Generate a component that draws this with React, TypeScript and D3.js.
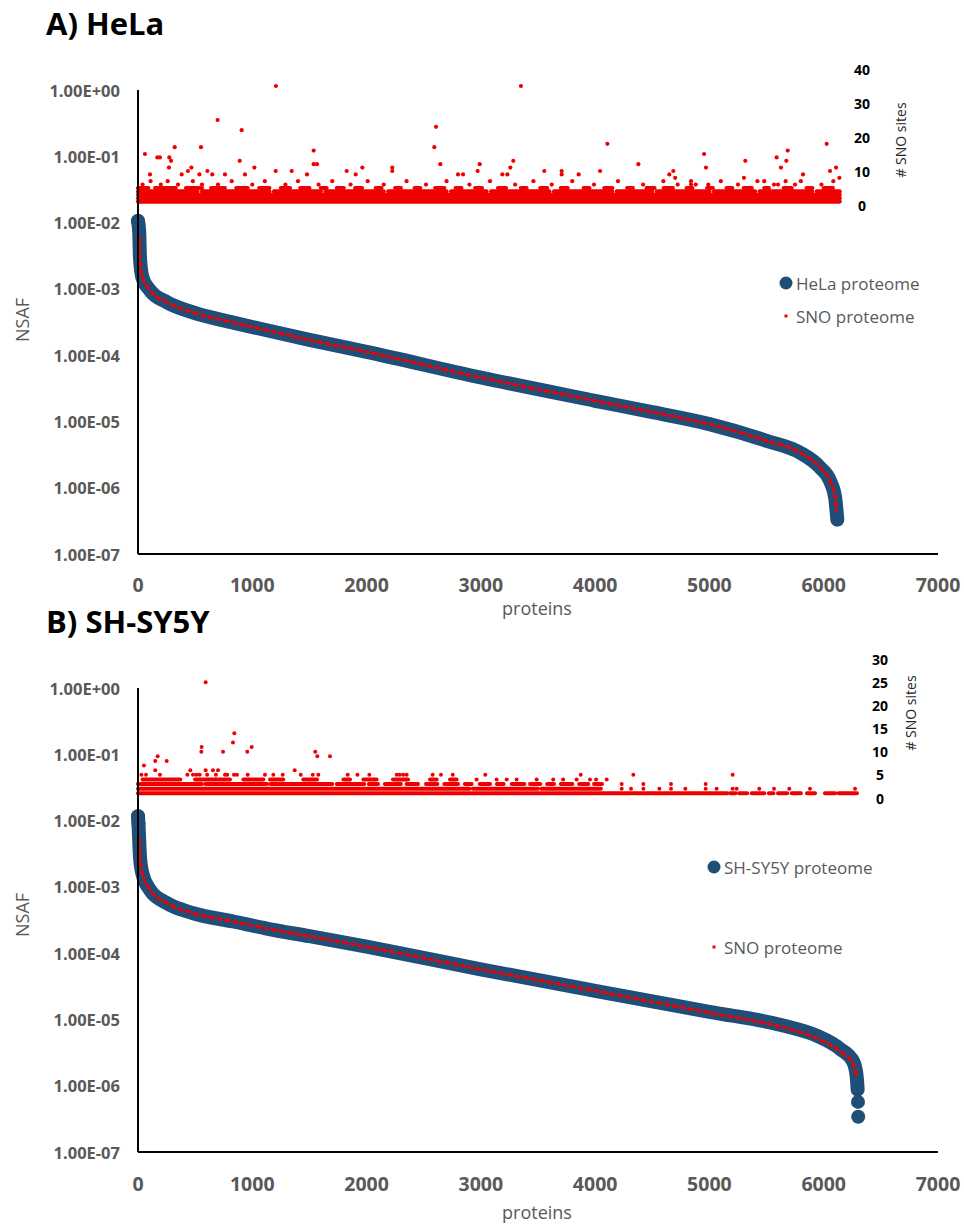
import React from "react";
import * as d3 from "d3";

// ---------- A) HeLa ----------
const helaRank = [0, 11, 17, 38, 105, 251, 484, 834, 1068, 1500, 2000, 3000, 4000, 4500, 5000, 5500, 5790, 5970, 6055, 6100, 6119];
const helaNsaf = [1.06e-2, 6.9e-3, 3.0e-3, 1.5e-3, 9.5e-4, 6.3e-4, 4.4e-4, 3.1e-4, 2.5e-4, 1.7e-4, 1.12e-4, 4.6e-5, 2.05e-5, 1.38e-5, 9.1e-6, 5.1e-6, 3.4e-6, 2.0e-6, 1.27e-6, 7.1e-7, 3.3e-7];
const helaSnoRank = [14, 17, 38, 105, 251, 484, 834, 1068, 1500, 2000, 3000, 4000, 4500, 5000, 5500, 5790, 5970, 6055, 6100, 6112];
const helaSnoNsaf = [6.0e-3, 3.0e-3, 1.5e-3, 9.5e-4, 6.3e-4, 4.4e-4, 3.1e-4, 2.5e-4, 1.7e-4, 1.12e-4, 4.6e-5, 2.05e-5, 1.38e-5, 9.1e-6, 5.1e-6, 3.4e-6, 2.0e-6, 1.27e-6, 7.1e-7, 4.3e-7];
// dense rows of SNO-site markers: [sites, fromRank, toRank]
const helaSiteRuns: [number, number, number][] = [
  [1, 0, 6140], [2, 0, 6140], [3, 0, 6140],
  [4, 0, 520], [4, 560, 1150], [4, 1190, 1600], [4, 1640, 2150], [4, 2190, 2700], [4, 2740, 3050], [4, 3090, 3600],
  [4, 3640, 4150], [4, 4190, 4500], [4, 4540, 5000], [4, 5040, 5400], [4, 5440, 5900], [4, 5940, 6140],
  [5, 0, 90], [5, 150, 330], [5, 420, 560], [5, 640, 760], [5, 860, 960], [5, 1060, 1150], [5, 1250, 1330], [5, 1420, 1500],
  [5, 1600, 1650], [5, 1740, 1800], [5, 1900, 1960], [5, 2080, 2130], [5, 2250, 2300], [5, 2420, 2470], [5, 2600, 2680],
  [5, 2780, 2830], [5, 2950, 3010], [5, 3150, 3220], [5, 3350, 3400], [5, 3520, 3580], [5, 3700, 3760], [5, 3900, 3950],
  [5, 4080, 4150], [5, 4280, 4330], [5, 4450, 4520], [5, 4600, 4680], [5, 4800, 4850], [5, 4980, 5030], [5, 5150, 5200],
  [5, 5300, 5370], [5, 5480, 5520], [5, 5650, 5720], [5, 5850, 5900], [5, 6000, 6080],
];
// single SNO-site markers: [rank, sites]
const helaSites: [number, number][] = [
  [40, 6], [110, 7], [200, 6], [260, 7], [350, 6], [480, 7], [560, 6], [700, 6], [820, 7], [1000, 6], [1110, 7], [1290, 6],
  [1400, 7], [1580, 6], [1700, 7], [1860, 6], [2010, 7], [2150, 6], [2350, 7], [2520, 6], [2700, 7], [2900, 6], [3080, 7],
  [3300, 6], [3460, 7], [3620, 6], [3800, 7], [3990, 6], [4200, 7], [4420, 6], [4700, 8], [4880, 6], [5100, 7], [5250, 6],
  [5420, 7], [5600, 6], [5800, 7], [5980, 6],
  [61, 15], [105, 9], [169, 14], [192, 14], [274, 14], [271, 11], [289, 13], [321, 17], [382, 9], [437, 10], [467, 11],
  [537, 9], [551, 17], [607, 10], [650, 9], [697, 25], [761, 9], [890, 13], [907, 22], [936, 9], [1018, 11], [1205, 10],
  [1207, 35], [1345, 10], [1479, 9], [1537, 16], [1537, 12], [1566, 12], [1826, 10], [1905, 9], [1963, 11], [2225, 11],
  [2225, 10], [2593, 17], [2608, 23], [2645, 12], [2800, 9], [2844, 9], [2972, 10], [2990, 12], [3188, 9], [3232, 9],
  [3258, 11], [3284, 13], [3351, 35], [3555, 10], [3707, 10], [3707, 9], [3856, 9], [4043, 10], [4107, 18], [4378, 12],
  [4597, 7], [4649, 9], [4684, 10], [4722, 6], [4839, 7], [4839, 6], [4953, 15], [4970, 11], [4990, 6], [5302, 8],
  [5314, 13], [5480, 7], [5565, 6], [5588, 14], [5626, 11], [5667, 7], [5673, 13], [5685, 16], [5749, 6], [5819, 9],
  [6026, 18], [6055, 10], [6084, 7], [6108, 11], [6137, 8],
];

// ---------- B) SH-SY5Y ----------
const shsyRank = [0, 4, 17, 38, 105, 251, 484, 834, 1126, 1500, 2000, 3000, 4000, 5000, 5644, 5938, 6143, 6259, 6288, 6297];
const shsyNsaf = [1.16e-2, 9.0e-3, 2.9e-3, 1.6e-3, 9.0e-4, 5.7e-4, 4.0e-4, 3.0e-4, 2.35e-4, 1.8e-4, 1.25e-4, 5.7e-5, 2.7e-5, 1.3e-5, 8.1e-6, 5.7e-6, 3.6e-6, 2.3e-6, 1.4e-6, 8.7e-7];
const shsyTail: [number, number][] = [[6300, 5.7e-7], [6302, 3.4e-7]];
const shsySnoRank = [10, 17, 38, 105, 251, 484, 834, 1126, 1500, 2000, 3000, 4000, 5000, 5644, 5938, 6143, 6259, 6285];
const shsySnoNsaf = [5.5e-3, 2.9e-3, 1.6e-3, 9.0e-4, 5.7e-4, 4.0e-4, 3.0e-4, 2.35e-4, 1.8e-4, 1.25e-4, 5.7e-5, 2.7e-5, 1.26e-5, 7.6e-6, 5.2e-6, 3.3e-6, 2.1e-6, 1.4e-6];
const shsySiteRuns: [number, number, number][] = [
  [1, 0, 5154], [1, 5180, 5230], [1, 5260, 5330], [1, 5370, 5480], [1, 5520, 5560], [1, 5600, 5680], [1, 5720, 5800],
  [1, 5854, 5924], [1, 6011, 6100], [1, 6130, 6291],
  [2, 0, 2900], [2, 2930, 3500], [2, 3530, 4050],
  [3, 0, 560], [3, 590, 1130], [3, 1160, 1700], [3, 1740, 1980], [3, 2020, 2100], [3, 2160, 2300], [3, 2350, 2450],
  [3, 2520, 2620], [3, 2680, 2800], [3, 2860, 2920], [3, 2990, 3080], [3, 3140, 3200], [3, 3270, 3380], [3, 3430, 3520],
  [3, 3580, 3640], [3, 3700, 3800], [3, 3860, 3940], [3, 3990, 4060],
  [4, 40, 370], [4, 499, 805], [4, 922, 1097], [4, 1155, 1271], [4, 1446, 1566], [4, 1797, 1855], [4, 1972, 2088],
  [4, 2231, 2363], [4, 2555, 2613], [4, 2730, 2788],
];
const shsySites: [number, number][] = [
  [2963, 4], [3138, 4], [3226, 4], [3313, 4], [3488, 4], [3633, 4], [3720, 4], [3838, 4], [3955, 4], [4008, 4], [4101, 4],
  [4232, 2], [4314, 2], [4422, 2], [4562, 2], [4664, 2], [4789, 2], [4967, 2], [5063, 2], [5203, 2], [5238, 2], [5436, 2],
  [5565, 2], [5699, 2], [5880, 2], [6274, 2],
  [4232, 3], [4422, 3], [4664, 3], [4967, 3],
  [30, 5], [52, 7], [70, 5], [151, 8], [151, 6], [172, 9], [192, 5], [251, 8], [432, 5], [458, 6], [481, 5], [510, 5],
  [540, 5], [554, 10], [557, 11], [592, 25], [592, 6], [605, 5], [656, 6], [682, 5], [700, 6], [744, 10], [761, 5],
  [781, 5], [831, 12], [843, 14], [840, 5], [866, 5], [956, 10], [960, 5], [995, 11], [1111, 5], [1184, 5], [1266, 5],
  [1371, 6], [1424, 5], [1529, 5], [1551, 10], [1569, 9], [1578, 5], [1680, 9], [1835, 5], [1920, 5], [2024, 5],
  [2264, 5], [2290, 5], [2320, 5], [2351, 5], [2578, 5], [2651, 5], [2754, 5], [3039, 5], [3874, 5], [4334, 5], [5203, 5],
];

// ---------- axes ----------
const xTicks = [0, 1000, 2000, 3000, 4000, 5000, 6000, 7000];
const nsafTicks = [1, 1e-1, 1e-2, 1e-3, 1e-4, 1e-5, 1e-6, 1e-7];
const nsafLabels = ["1.00E+00", "1.00E-01", "1.00E-02", "1.00E-03", "1.00E-04", "1.00E-05", "1.00E-06", "1.00E-07"];
const helaSiteTicks = [0, 10, 20, 30, 40];
const shsySiteTicks = [0, 5, 10, 15, 20, 25, 30];

const BLUE = "#1f4e79";
const RED = "#f00000";
const GRAY = "#595959";
const FONT = "'Open Sans', 'Noto Sans', sans-serif";

type PanelProps = {
  title: string; titleY: number; top: number; bottom: number;
  siteTop: number; siteBottom: number; siteMax: number; siteTicks: number[]; dotR: number;
  siteLabelX: number; siteTitleX: number; siteTitleY: number;
  rank: number[]; nsaf: number[]; snoRank: number[]; snoNsaf: number[];
  head: number; tail: [number, number][]; runs: [number, number, number][]; sites: [number, number][];
  legendX: number; legendY1: number; legendY2: number; legendName: string;
  xTickY: number; xTitleY: number; nsafY: number;
};

const Panel = (p: PanelProps) => {
  const left = 138, right = 938, r = p.dotR;
  const x = d3.scaleLinear().domain([0, 7000]).range([left, right]);
  const y = d3.scaleLog().domain([1e-7, 1]).range([p.bottom, p.top]);
  const ys = d3.scaleLinear().domain([0, p.siteMax]).range([p.siteBottom, p.siteTop]);

  const line = d3.line<[number, number]>().x(d => x(d[0])).y(d => y(d[1])).curve(d3.curveMonotoneX);
  const prot = p.rank.map((k, i) => [k, p.nsaf[i]] as [number, number]);
  const sno = p.snoRank.map((k, i) => [k, p.snoNsaf[i]] as [number, number]);

  return (
    <g>
      <text x={46} y={p.titleY} fontFamily={FONT} fontWeight={700} fontSize={31} fill="#000">{p.title}</text>

      {/* SNO sites on the secondary axis */}
      <g fill={RED}>
        {p.runs.map(([s, a, b], i) => (
          <rect key={"r" + i} x={x(a) - r} y={ys(s) - r} width={x(b) - x(a) + 2 * r} height={2 * r} rx={r} />
        ))}
        {p.sites.map(([k, s], i) => <circle key={"s" + i} cx={x(k)} cy={ys(s)} r={r} />)}
      </g>

      {/* proteome NSAF */}
      <path d={line(prot) || ""} fill="none" stroke={BLUE} strokeWidth={14} strokeLinecap="round" strokeLinejoin="round" />
      {prot.slice(0, p.head).map(([k, v], i) => <circle key={"h" + i} cx={x(k)} cy={y(v)} r={7} fill={BLUE} />)}
      {p.tail.map(([k, v], i) => <circle key={"t" + i} cx={x(k)} cy={y(v)} r={7} fill={BLUE} />)}
      <path d={line(sno) || ""} fill="none" stroke={RED} strokeWidth={3} strokeDasharray="6 2" />

      {/* axes */}
      <line x1={left} x2={left} y1={p.top} y2={p.bottom} stroke="#000" strokeWidth={2} />
      <line x1={left} x2={right} y1={p.bottom} y2={p.bottom} stroke="#000" strokeWidth={2} />
      {nsafTicks.map((t, i) => (
        <text key={"y" + i} x={120} y={y(t)} textAnchor="end" dominantBaseline="central" fontFamily={FONT}
          fontWeight={700} fontSize={16.5} fill={GRAY}>{nsafLabels[i]}</text>
      ))}
      {xTicks.map(t => (
        <text key={"x" + t} x={x(t)} y={p.xTickY} textAnchor="middle" dominantBaseline="central" fontFamily={FONT}
          fontWeight={700} fontSize={19.5} fill={GRAY}>{t}</text>
      ))}
      {p.siteTicks.map(t => (
        <text key={"st" + t} x={p.siteLabelX} y={ys(t)} textAnchor="middle" dominantBaseline="central" fontFamily={FONT}
          fontWeight={700} fontSize={14} fill="#000">{t}</text>
      ))}
      <text transform={`translate(${p.siteTitleX},${p.siteTitleY}) rotate(-90)`} textAnchor="middle" dominantBaseline="central"
        fontFamily={FONT} fontSize={14} fill="#262626"># SNO sites</text>
      <text transform={`translate(22,${p.nsafY}) rotate(-90)`} textAnchor="middle" dominantBaseline="central"
        fontFamily={FONT} fontSize={18} fill={GRAY}>NSAF</text>
      <text x={537} y={p.xTitleY} textAnchor="middle" dominantBaseline="central" fontFamily={FONT} fontSize={18} fill={GRAY}>proteins</text>

      {/* legend */}
      <circle cx={p.legendX} cy={p.legendY1} r={6.5} fill={BLUE} />
      <text x={p.legendX + 10} y={p.legendY1} dominantBaseline="central" fontFamily={FONT} fontSize={17} fill={GRAY}>{p.legendName}</text>
      <rect x={p.legendX - 1.5} y={p.legendY2 - 1.5} width={3} height={3} fill={RED} />
      <text x={p.legendX + 10} y={p.legendY2} dominantBaseline="central" fontFamily={FONT} fontSize={17} fill={GRAY}>SNO proteome</text>
    </g>
  );
};

export default function App() {
  return (
    <svg width={964} height={1226} style={{ position: "absolute", left: 0, top: 0, background: "#fff" }}>
      <Panel title="A) HeLa" titleY={35} top={90} bottom={554}
        siteTop={69} siteBottom={205} siteMax={40} siteTicks={helaSiteTicks} dotR={2.1}
        siteLabelX={862} siteTitleX={900} siteTitleY={140}
        rank={helaRank} nsaf={helaNsaf} snoRank={helaSnoRank} snoNsaf={helaSnoNsaf} head={1} tail={[]}
        runs={helaSiteRuns} sites={helaSites}
        legendX={786} legendY1={283} legendY2={316} legendName="HeLa proteome"
        xTickY={584} xTitleY={608} nsafY={320} />
      <Panel title="B) SH-SY5Y" titleY={633} top={688} bottom={1152}
        siteTop={659} siteBottom={798} siteMax={30} siteTicks={shsySiteTicks} dotR={2}
        siteLabelX={880} siteTitleX={910} siteTitleY={713}
        rank={shsyRank} nsaf={shsyNsaf} snoRank={shsySnoRank} snoNsaf={shsySnoNsaf} head={2} tail={shsyTail}
        runs={shsySiteRuns} sites={shsySites}
        legendX={714} legendY1={867} legendY2={947} legendName="SH-SY5Y proteome"
        xTickY={1183} xTitleY={1212} nsafY={915} />
    </svg>
  );
}
